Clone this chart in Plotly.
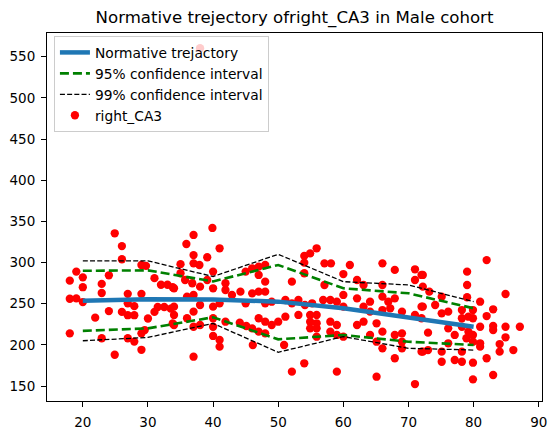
import plotly.graph_objects as go

# Normative trajectory and confidence bounds at these ages
grid_age = [20, 30, 40, 50, 60, 70, 80]
traj = [253.6, 255.5, 255.0, 252.5, 244.4, 233.5, 222.0]
ci95_hi = [290, 290.5, 277, 297, 268.7, 262.6, 244.4]
ci95_lo = [217, 220, 233.5, 206.7, 212, 203.8, 199.8]
ci99_hi = [302, 302, 283, 310, 276.8, 272.7, 252.5]
ci99_lo = [205, 209, 226, 191, 210, 195.8, 193.7]

# Observed subjects (age, right_CA3 volume)
ages = [
    24.9, 26.0, 26.0, 19.0, 18.0, 20.0, 20.0, 22.9, 22.9, 24.0, 29.0, 29.7, 31.0, 32.0, 33.0, 33.8,
    18.0, 19.0, 20.0, 26.9, 29.0, 26.9, 27.9, 26.0, 26.9, 27.9, 30.0, 31.0, 31.5, 32.5, 33.5, 33.8,
    21.9, 24.0, 18.0, 22.9, 26.9, 27.9, 29.0, 29.0, 24.9, 29.5,
    39.9, 37.0, 35.9, 41.0, 37.0, 37.0, 37.9, 39.1, 35.0, 40.0, 35.0, 34.0, 35.7, 36.8, 38.0, 39.1,
    40.0, 41.9, 41.9, 42.9, 44.2, 45.0, 46.0, 47.0, 48.0, 47.0, 48.0, 46.0, 47.0, 48.0, 52.1, 45.0,
    48.0, 49.0, 51.1, 52.1, 34.0, 34.0, 36.0, 37.0, 38.0, 40.0, 41.0, 36.0, 37.0, 37.0, 38.0, 34.0,
    40.0, 40.0, 41.9, 44.1, 45.1, 46.0, 47.0, 48.0, 47.0, 48.0, 49.0, 50.0, 51.1, 40.0, 41.0, 41.0,
    46.1, 50.9, 37.0, 52.1, 38.0,
    55.9, 54.9, 54.0, 54.0, 57.1, 58.1, 61.0, 66.0, 67.9, 71.0, 72.0, 60.0, 54.0, 57.1, 62.1, 63.1,
    66.0, 71.0, 60.0, 62.1, 66.0, 67.9, 66.9, 56.9, 58.0, 59.0, 64.1, 53.1, 54.1, 55.2, 60.0, 63.1,
    64.1, 66.0, 67.2, 69.0, 72.0, 53.1, 54.9, 55.9, 54.9, 55.9, 54.9, 55.9, 58.0, 59.0, 58.0, 59.0,
    60.0, 55.9, 62.1, 63.1, 65.1, 64.1, 65.1, 66.0, 66.0, 67.9, 69.0, 69.0, 69.0, 67.9, 72.0, 54.0,
    59.0, 65.1, 71.0, 71.0, 72.0,
    82.0, 79.0, 79.0, 84.9, 79.0, 81.0, 83.0, 82.0, 72.2, 72.2, 73.2, 72.2, 74.1, 75.1, 75.1, 76.1,
    78.2, 79.9, 78.2, 79.2, 79.9, 76.1, 77.1, 78.2, 79.2, 79.9, 81.0, 83.0, 83.0, 84.9, 87.1, 84.9,
    84.0, 84.0, 86.1, 81.0, 81.0, 79.9, 78.9, 76.1, 73.0, 72.2, 73.0, 75.1, 75.1, 77.1, 78.2, 78.2,
    79.9, 82.0, 79.9, 83.0,
]
volumes = [
    335.5, 320, 304, 289, 278, 282, 270, 274, 263, 284.5, 297, 296, 281, 273, 273, 270,
    256, 256.5, 252, 262, 262, 250.5, 247, 240, 236, 236, 232, 240, 246, 246, 244, 226,
    233, 241, 214, 208, 208, 204, 214, 194, 188, 218,
    342, 333.5, 322.5, 317.3, 309, 299, 297, 306.4, 298, 289, 287, 268.7, 278.8, 274.8, 270.7, 278.8,
    268.7, 274.8, 266.6, 260.6, 264.6, 289, 293, 295, 297, 284.9, 276.8, 262.6, 264.6, 264.6, 276.8, 250.5,
    250.5, 252.4, 254.5, 250.5, 246.4, 236.3, 258.6, 260.6, 248.4, 246.4, 250.5, 232.3, 240.3, 222, 224.1, 224.1,
    232.3, 222, 228.1, 226.9, 222.9, 220.1, 232.3, 228.1, 216, 214, 224.1, 228.1, 234.2, 210.8, 205.9, 197.8,
    199.8, 199.8, 185.6, 167.4, 560.3,
    317.3, 311.2, 308, 299.8, 299, 299, 297, 299, 291, 291.8, 284.9, 286, 287, 272.7, 278.8, 272.7,
    272.7, 278.8, 260.6, 256.5, 258.5, 256.5, 252.4, 254.5, 254.5, 252.4, 252.4, 254.5, 248.4, 250.5, 246.4, 246.4,
    240.3, 242.3, 244.4, 240.3, 246.4, 236.3, 236.3, 236.3, 228.1, 226.2, 220.1, 220.1, 228.1, 224.1, 216, 212,
    209.9, 209.9, 224.1, 228.1, 226.2, 212, 203.8, 195.8, 216, 212, 214, 203.8, 195.8, 183.7, 191.7, 177.6,
    167.4, 161.3, 152.4, 236.3, 232.3,
    303, 288.9, 272.7, 261.8, 257.8, 252.4, 243.2, 235, 284.9, 270.7, 264.6, 246.4, 248.4, 258.5, 238.3, 240.3,
    242.3, 242.3, 232.3, 234.2, 232.3, 220.1, 212, 222, 216, 212, 222, 222.9, 218, 222, 222, 209.2,
    201, 191.7, 193.7, 201.9, 197.8, 203.8, 208, 201.9, 214.8, 191.7, 193.7, 191.7, 179.5, 181.6, 179.5, 191.7,
    178.3, 183.7, 158.1, 163.4,
]

font = "DejaVu Sans"
fig = go.Figure()

fig.add_trace(go.Scatter(
    x=ages, y=volumes, mode="markers", name="right_CA3",
    marker=dict(color="#ff0000", size=8.3, line=dict(width=0)),
    legendrank=4,
))
fig.add_trace(go.Scatter(
    x=grid_age, y=traj, mode="lines", name="Normative trejactory",
    line=dict(color="#1f77b4", width=4.5), legendrank=1,
))
fig.add_trace(go.Scatter(
    x=grid_age, y=ci95_hi, mode="lines", name="95% confidence interval",
    line=dict(color="#008000", width=2.6, dash="9px,4px"), legendrank=2, legendgroup="c95",
))
fig.add_trace(go.Scatter(
    x=grid_age, y=ci95_lo, mode="lines", name="95% confidence interval",
    line=dict(color="#008000", width=2.6, dash="9px,4px"), showlegend=False, legendgroup="c95",
))
fig.add_trace(go.Scatter(
    x=grid_age, y=ci99_hi, mode="lines", name="99% confidence interval",
    line=dict(color="#000000", width=1.3, dash="5px,2.2px"), legendrank=3, legendgroup="c99",
))
fig.add_trace(go.Scatter(
    x=grid_age, y=ci99_lo, mode="lines", name="99% confidence interval",
    line=dict(color="#000000", width=1.3, dash="5px,2.2px"), showlegend=False, legendgroup="c99",
))

axis_common = dict(
    showgrid=False, zeroline=False, showline=True, linecolor="black", linewidth=1,
    mirror=True, ticks="outside", ticklen=5, tickcolor="black", tickwidth=1,
    automargin=False,
    tickfont=dict(family=font, size=13.5, color="black"),
)
fig.update_layout(
    width=557, height=435,
    margin=dict(l=47, r=15, t=33, b=34),
    paper_bgcolor="white", plot_bgcolor="white",
    title=dict(text="Normative trejectory ofright_CA3 in Male cohort",
               x=0.5, xref="paper", xanchor="center",
               y=1 - 17 / 435, yref="container", yanchor="middle",
               font=dict(family=font, size=16.6, color="black")),
    xaxis=dict(range=[14.5, 90.5], tickmode="array", ticklabelstandoff=4,
               tickvals=[20, 30, 40, 50, 60, 70, 80, 90], **axis_common),
    yaxis=dict(range=[131.8, 578.8], tickmode="array", ticklabelstandoff=3,
               tickvals=[150, 200, 250, 300, 350, 400, 450, 500, 550], **axis_common),
    legend=dict(x=0.014, y=0.992, xanchor="left", yanchor="top",
                bgcolor="rgba(255,255,255,0.8)", bordercolor="#cccccc", borderwidth=1,
                font=dict(family=font, size=13.8, color="black"),
                tracegroupgap=0, itemwidth=30),
    showlegend=True,
)

fig.write_html("out.html")
